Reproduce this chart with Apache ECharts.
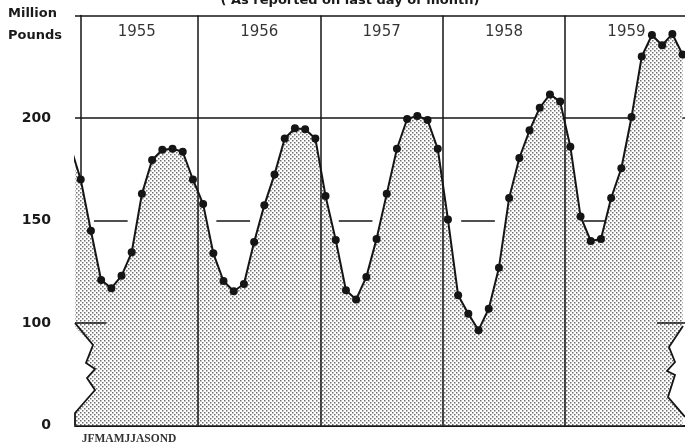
<!DOCTYPE html>
<html>
<head>
<meta charset="utf-8">
<script src="https://cdn.jsdelivr.net/npm/echarts@6/dist/echarts.min.js"></script>
<style>
html,body{margin:0;padding:0;background:#fff;}
#c{width:685px;height:445px;}
</style>
</head>
<body>
<div id="c"></div>
<script>
// ---- data (million pounds, reported on last day of month) ----
const monthLetters = ['J','F','M','A','M','J','J','A','S','O','N','D'];
const years = ['1955','1956','1957','1958','1959'];
const dec1954 = 186;
const v1955 = [170, 145, 121, 117, 123, 134.5, 163, 179.5, 184.5, 185, 183.5, 170];
const v1956 = [158, 134, 120.5, 115.5, 119, 139.5, 157.5, 172.5, 190, 195, 194.5, 190];
const v1957 = [162, 140.5, 116, 111.5, 122.5, 141, 163, 185, 199.5, 201, 199, 185];
const v1958 = [150.5, 113.5, 104.5, 96.5, 107, 127, 161, 180.5, 194, 205, 211.5, 208];
const v1959 = [186, 152, 140, 141, 161, 175.5, 200.5, 230, 240.5, 235.5, 241, 231];
const yTickValues = [50, 100, 150, 200];     // axis is broken below 100
const yTickLabels = ['0', '100', '150', '200'];
const titleText = '( As reported on last day of month)';
const unitLabel = ['Million', 'Pounds'];

// ---- build series ----
const yearly = [v1955, v1956, v1957, v1958, v1959];
const seriesData = [[-1, dec1954]];
yearly.forEach((arr, k) => arr.forEach((v, m) => seriesData.push([k * 12 + m, v])));

const X_MIN = -0.56, X_MAX = 59.24, Y_MIN = 50, Y_MAX = 250;
const INK = '#151515';

// stipple pattern
const pc = document.createElement('canvas');
pc.width = 4; pc.height = 4;
const pctx = pc.getContext('2d');
pctx.fillStyle = '#ffffff'; pctx.fillRect(0, 0, 4, 4);
pctx.fillStyle = '#707070';
pctx.fillRect(0, 0, 1.5, 1.5);
pctx.fillRect(2, 2, 1.5, 1.5);

const bgLines = [{ yAxis: 200 }];
years.forEach((y, k) => bgLines.push([{ coord: [k * 12 + 1.3, 150] }, { coord: [k * 12 + 4.6, 150] }]));

const fgLines = [{ yAxis: Y_MAX }];
years.forEach((y, k) => { if (k > 0) fgLines.push({ xAxis: k * 12 - 0.5 }); });
fgLines.push([{ coord: [X_MIN, 100] }, { coord: [2.5, 100] }]);
fgLines.push([{ coord: [56.5, 100] }, { coord: [X_MAX, 100] }]);

const chart = echarts.init(document.getElementById('c'));
chart.setOption({
  animation: false,
  backgroundColor: '#fff',
  grid: { left: 75, right: 0, top: 15.5, bottom: 19.5 },
  xAxis: {
    type: 'value', min: X_MIN, max: X_MAX,
    axisLine: { show: true, lineStyle: { color: INK, width: 2 } },
    axisTick: { show: false }, axisLabel: { show: false }, splitLine: { show: false }
  },
  yAxis: {
    type: 'value', min: Y_MIN, max: Y_MAX, interval: 50,
    axisLine: { show: true, lineStyle: { color: INK, width: 1.5 } },
    axisTick: { show: false }, splitLine: { show: false },
    axisLabel: {
      margin: 24, color: '#1a1a1a', fontFamily: 'DejaVu Sans', fontWeight: 'bold', fontSize: 14,
      formatter: v => { const i = yTickValues.indexOf(v); return i >= 0 ? yTickLabels[i] : ''; }
    }
  },
  series: [
    {
      type: 'line', data: seriesData, z: 2, clip: true,
      showSymbol: false, symbol: 'none',
      lineStyle: { width: 0, opacity: 0 },
      areaStyle: { color: { image: pc, repeat: 'repeat' }, opacity: 1, origin: 'start' },
      markLine: {
        z: 1, silent: true, symbol: 'none', label: { show: false },
        lineStyle: { color: INK, width: 1.5, type: 'solid' },
        data: bgLines
      }
    },
    {
      type: 'line', data: seriesData, z: 4, clip: true,
      symbol: 'circle', symbolSize: 8, showSymbol: true,
      itemStyle: { color: INK },
      lineStyle: { color: INK, width: 2 },
      markLine: {
        z: 3, silent: true, symbol: 'none', label: { show: false },
        lineStyle: { color: INK, width: 1.5, type: 'solid' },
        data: fgLines
      }
    },
    {
      type: 'scatter', z: 6, symbolSize: 0, silent: true,
      data: years.map((y, k) => [k * 12 + 5.5, 242]),
      label: {
        show: true, position: 'inside', color: '#000', fontFamily: 'DejaVu Sans', fontSize: 15,
        formatter: p => years[p.dataIndex]
      }
    }
  ]
});

// ---- decorations: axis-break zigzags, texts ----
const p0 = chart.convertToPixel({ gridIndex: 0 }, [X_MIN, 100]);
const p1 = chart.convertToPixel({ gridIndex: 0 }, [X_MAX, 100]);
const pb = chart.convertToPixel({ gridIndex: 0 }, [X_MIN, Y_MIN]);
const pm = chart.convertToPixel({ gridIndex: 0 }, [0, Y_MIN]);
const L = p0[0], R = p1[0], Y100 = p0[1], YB = pb[1];
const leftZ = [[0,0],[18,22],[11,40],[20,46],[12,55],[20,67],[0,90]];
const rightZ = [[-2,3],[-16,24],[-10,39],[-18,48],[-10,52],[-17,74],[0,94]];
const lz = leftZ.map(d => [L + d[0], Y100 + d[1]]);
const rz = rightZ.map(d => [R + d[0], Y100 + d[1]]);

chart.setOption({
  graphic: [
    { type: 'polygon', z: 100, shape: { points: [[L - 3, Y100 + 1]].concat(lz.slice(1)).concat([[L - 3, lz[lz.length-1][1]]]) }, style: { fill: '#fff' } },
    { type: 'polyline', z: 101, shape: { points: lz.concat([[L, YB]]) }, style: { stroke: INK, lineWidth: 1.8, fill: null } },
    { type: 'polygon', z: 100, shape: { points: [[R + 3, Y100 + 3]].concat(rz).concat([[R + 3, rz[rz.length-1][1]]]) }, style: { fill: '#fff' } },
    { type: 'polyline', z: 101, shape: { points: rz }, style: { stroke: INK, lineWidth: 1.8, fill: null } },
    { type: 'text', z: 102, left: 8, top: 7, style: { text: unitLabel[0], font: 'bold 13px "DejaVu Sans"', fill: '#1a1a1a' } },
    { type: 'text', z: 102, left: 8, top: 29, style: { text: unitLabel[1], font: 'bold 13px "DejaVu Sans"', fill: '#1a1a1a' } },
    { type: 'text', z: 102, x: 350, y: -6, style: { text: titleText, font: 'bold 13px "DejaVu Sans"', fill: '#1a1a1a', align: 'center' } },
    { type: 'text', z: 102, x: pm[0] + 1, y: YB + 8, style: { text: monthLetters.join(''), font: 'bold 11.5px "Liberation Serif"', fill: '#333' } }
  ]
});
</script>
</body>
</html>
